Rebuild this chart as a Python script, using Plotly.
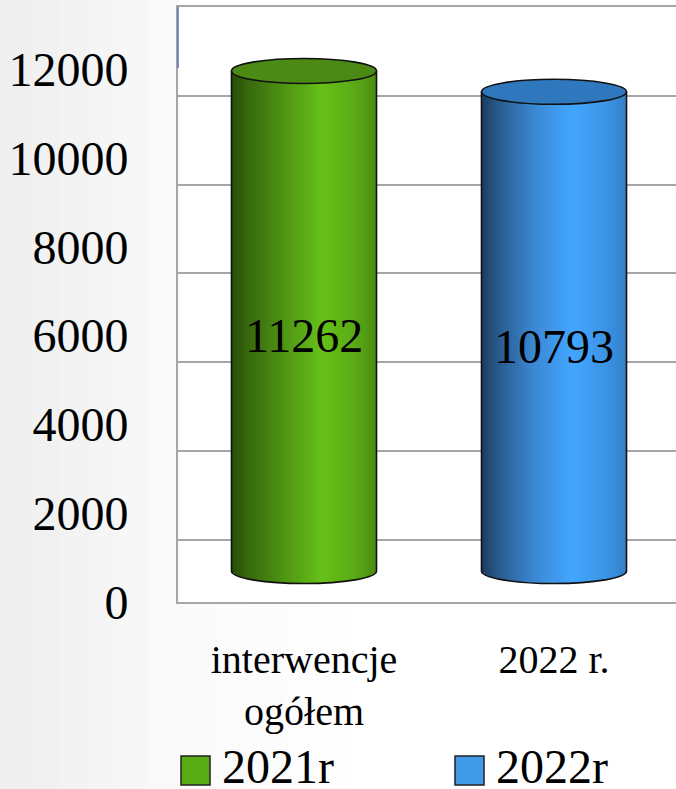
import numpy as np
import plotly.graph_objects as go

# ---------------- data ----------------
categories = ["interwencje<br>ogółem", "2022 r."]
series_names = ["2021r", "2022r"]
values = [11262, 10793]
y_tick_values = [0, 2000, 4000, 6000, 8000, 10000, 12000]
y_tick_labels = ["0", "2000", "4000", "6000", "8000", "10000", "12000"]
grid_values = [2000, 4000, 6000, 8000, 10000, 12000, 14000]

# ---------------- style ----------------
W, H = 676, 789
ML, MT, MB = 178, 7, 187
PLOT_H = H - MT - MB
FONT = "Liberation Serif, Times New Roman, DejaVu Serif, serif"
GRID = "#a6a6a6"
K = 0.0444  # px per unit
SPAN = PLOT_H / K

green_stops = [(0.0, "#284c09"), (0.12, "#386a0d"), (0.35, "#4e9213"),
               (0.62, "#66c018"), (0.85, "#5aaa15"), (1.0, "#4a8c12")]
blue_stops = [(0.0, "#1a3d61"), (0.12, "#295b8d"), (0.35, "#3a86d0"),
              (0.62, "#43a6ff"), (0.85, "#3c95e6"), (1.0, "#3380c8")]
top_colors = ["#4b8b15", "#2f78bd"]
legend_colors = ["#5aac14", "#3f9ae8"]
gradients = [green_stops, blue_stops]


def hex2rgb(h):
    h = h.lstrip("#")
    return [int(h[i:i + 2], 16) for i in (0, 2, 4)]


def interp(stops, t):
    for (t0, c0), (t1, c1) in zip(stops[:-1], stops[1:]):
        if t0 <= t <= t1:
            f = (t - t0) / (t1 - t0) if t1 > t0 else 0
            a, b = hex2rgb(c0), hex2rgb(c1)
            r = [round(a[j] + (b[j] - a[j]) * f) for j in range(3)]
            return "rgb(%d,%d,%d)" % tuple(r)
    return stops[-1][1]


HALF = 0.29   # cylinder half width (category units)
CAP = 282     # ellipse half height (cylinder-axis units)
N = 48

fig = go.Figure()

# invisible helper traces so the grid axis and the label axis are drawn
fig.add_trace(go.Scatter(x=[categories[0]], y=[grid_values[0]], yaxis="y",
                         mode="markers", marker=dict(opacity=0),
                         hoverinfo="skip", showlegend=False))
fig.add_trace(go.Scatter(x=[categories[0]], y=[y_tick_values[0]], yaxis="y2",
                         mode="markers", marker=dict(opacity=0),
                         hoverinfo="skip", showlegend=False))

step = 2.0 / N
for i in range(N):
    u0 = -1 + i * step
    uc = u0 + step / 2
    t = (uc + 1) / 2
    base = -CAP * np.sqrt(max(0.0, 1 - uc ** 2))
    w = step * HALF * (1.3 if i < N - 1 else 1.0)
    fig.add_trace(go.Bar(
        x=categories, y=[v - base for v in values], base=[base] * len(values),
        width=w, offset=u0 * HALF,
        marker=dict(color=[interp(g, t) for g in gradients], line=dict(width=0)),
        yaxis="y3", showlegend=False, hoverinfo="skip",
    ))

kap = 0.5523
shapes = []
for i, v in enumerate(values):
    xc, a, b = i, HALF, CAP
    path = (f"M {xc - a},{v} L {xc - a},0 "
            f"C {xc - a},{-kap * b} {xc - kap * a},{-b} {xc},{-b} "
            f"C {xc + kap * a},{-b} {xc + a},{-kap * b} {xc + a},0 "
            f"L {xc + a},{v}")
    shapes.append(dict(type="path", path=path, xref="x", yref="y3",
                       line=dict(color="#111111", width=1.6), layer="above"))
    shapes.append(dict(type="circle", xref="x", yref="y3",
                       x0=xc - a, x1=xc + a, y0=v - b, y1=v + b,
                       fillcolor=top_colors[i],
                       line=dict(color="#111111", width=1.6), layer="above"))


def px_x(p):
    return (p - ML) / (W - ML)


def px_y(p):
    return (H - MB - p) / PLOT_H


# background gradient on the left side (outside plot area)
bg_cols = ["#efefef", "#f1f1f1", "#f3f3f3", "#f5f5f5", "#f7f7f7", "#f9f9f9"]
for j, c in enumerate(bg_cols):
    shapes.append(dict(type="rect", xref="paper", yref="paper",
                       x0=px_x(j * ML / 6), x1=px_x((j + 1) * ML / 6 + 1),
                       y0=px_y(H), y1=px_y(0), fillcolor=c,
                       line=dict(width=0), layer="below"))
bg2 = ["#fafafa", "#fbfbfb", "#fcfcfc", "#fdfdfd", "#fefefe"]
for j, c in enumerate(bg2):
    shapes.append(dict(type="rect", xref="paper", yref="paper",
                       x0=px_x(ML + j * 35), x1=px_x(ML + (j + 1) * 35 + 1),
                       y0=px_y(H), y1=px_y(H - MB + 2), fillcolor=c,
                       line=dict(width=0), layer="below"))

# small blue segment on the wall edge
shapes.append(dict(type="line", xref="paper", yref="paper", x0=0, x1=0,
                   y0=px_y(68), y1=1, line=dict(color="#5b74b0", width=1.5),
                   layer="above"))

annotations = []
for i, v in enumerate(values):
    annotations.append(dict(x=categories[i], y=v / 2, xref="x", yref="y3",
                            text=str(v), showarrow=False, yshift=-15,
                            font=dict(family=FONT, size=48, color="black")))

# manual legend
leg_sq = [(181, 210), (455, 484)]
for i, name in enumerate(series_names):
    x0, x1 = leg_sq[i]
    shapes.append(dict(type="rect", xref="paper", yref="paper",
                       x0=px_x(x0), x1=px_x(x1), y0=px_y(785), y1=px_y(756),
                       fillcolor=legend_colors[i],
                       line=dict(color="#222222", width=1.5), layer="above"))
    annotations.append(dict(x=px_x(x1 + 10), y=px_y(767), xref="paper",
                            yref="paper", xanchor="left", yanchor="middle",
                            text=name, showarrow=False,
                            font=dict(family=FONT, size=48, color="black")))

grid_lo = 14000 - SPAN
lab_lo = 0.0
cyl_lo = -((H - MB) - 571) / K

fig.update_layout(
    width=W, height=H,
    margin=dict(l=ML, r=0, t=MT, b=MB, pad=0),
    paper_bgcolor="white", plot_bgcolor="white",
    barmode="overlay",
    xaxis=dict(type="category", categoryorder="array", categoryarray=categories,
               range=[-0.504, 1.488], showline=True, mirror=True,
               linecolor=GRID, linewidth=2, showgrid=False,
               ticks="outside", ticklen=21, tickcolor="rgba(0,0,0,0)",
               tickfont=dict(family=FONT, size=40, color="black")),
    yaxis=dict(range=[grid_lo, grid_lo + SPAN], tickvals=grid_values,
               showticklabels=False, showgrid=True, gridcolor=GRID,
               gridwidth=2, zeroline=False, showline=True, linecolor=GRID,
               linewidth=2, ticks=""),
    yaxis2=dict(overlaying="y", side="left", anchor="x",
                range=[lab_lo, lab_lo + SPAN], tickvals=y_tick_values,
                ticktext=y_tick_labels, showgrid=False, zeroline=False,
                showline=False, ticks="outside", ticklen=39,
                tickcolor="rgba(0,0,0,0)",
                tickfont=dict(family=FONT, size=48, color="black")),
    yaxis3=dict(overlaying="y", anchor="x", range=[cyl_lo, cyl_lo + SPAN],
                visible=False),
    shapes=shapes,
    annotations=annotations,
    showlegend=False,
)

fig.write_html("out.html", config={"displayModeBar": False},
               post_script="document.body.style.margin='0';")
